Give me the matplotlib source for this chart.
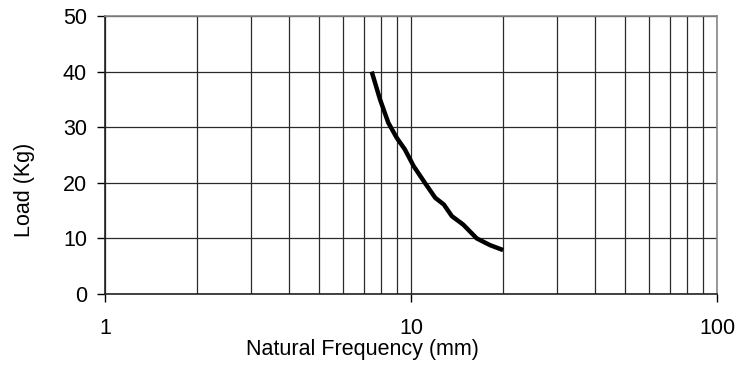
import matplotlib
matplotlib.use("Agg")
import matplotlib.pyplot as plt
from matplotlib.ticker import LogLocator, NullFormatter

plt.rcParams['font.family'] = ['Liberation Sans', 'DejaVu Sans']

# curve
freq = [7.44, 7.92, 8.43, 8.98, 9.55, 10.2, 11.1, 12.0, 12.8, 13.6, 14.8, 16.4, 18.1, 20.0]
load = [40.0, 35.0, 30.8, 28.1, 26.0, 23.0, 20.0, 17.3, 16.1, 14.0, 12.5, 10.0, 8.8, 7.9]

x_ticks = [1, 10, 100]
x_ticklabels = ["1", "10", "100"]
y_ticks = [0, 10, 20, 30, 40, 50]

fig = plt.figure(figsize=(7.52, 3.72), dpi=100)
ax = fig.add_axes([105/752, 1 - 294/372, 612/752, 278/372])

ax.plot(freq, load, color='black', linewidth=3.2, solid_capstyle='butt',
        solid_joinstyle='round', zorder=3)

ax.set_xscale('log')
ax.set_xlim(1, 100)
ax.set_ylim(0, 50)

ax.set_xticks(x_ticks)
ax.set_xticklabels(x_ticklabels)
ax.xaxis.set_minor_locator(LogLocator(base=10, subs=range(2, 10)))
ax.xaxis.set_minor_formatter(NullFormatter())
ax.set_yticks(y_ticks)

ax.grid(True, which='both', axis='x', color='#2a2a2a', linewidth=0.9)
ax.grid(True, which='major', axis='y', color='#2a2a2a', linewidth=0.9)

ax.tick_params(axis='both', which='major', direction='out', length=6, width=1,
               labelsize=15.5, colors='black')
ax.tick_params(axis='x', which='major', pad=11)
ax.tick_params(axis='y', which='major', pad=7)
ax.tick_params(axis='x', which='minor', length=0)

for side in ['left', 'bottom']:
    ax.spines[side].set_color('#222222')
    ax.spines[side].set_linewidth(1.2)
for side in ['top', 'right']:
    ax.spines[side].set_color('#888888')
    ax.spines[side].set_linewidth(1.2)

ax.set_xlabel("Natural Frequency (mm)", fontsize=15.5)
ax.set_ylabel("Load (Kg)", fontsize=15.5)
ax.xaxis.set_label_coords(0.42, -0.163)
ax.yaxis.set_label_coords(-0.114, 0.374)

fig.savefig("out.png", dpi=100)
